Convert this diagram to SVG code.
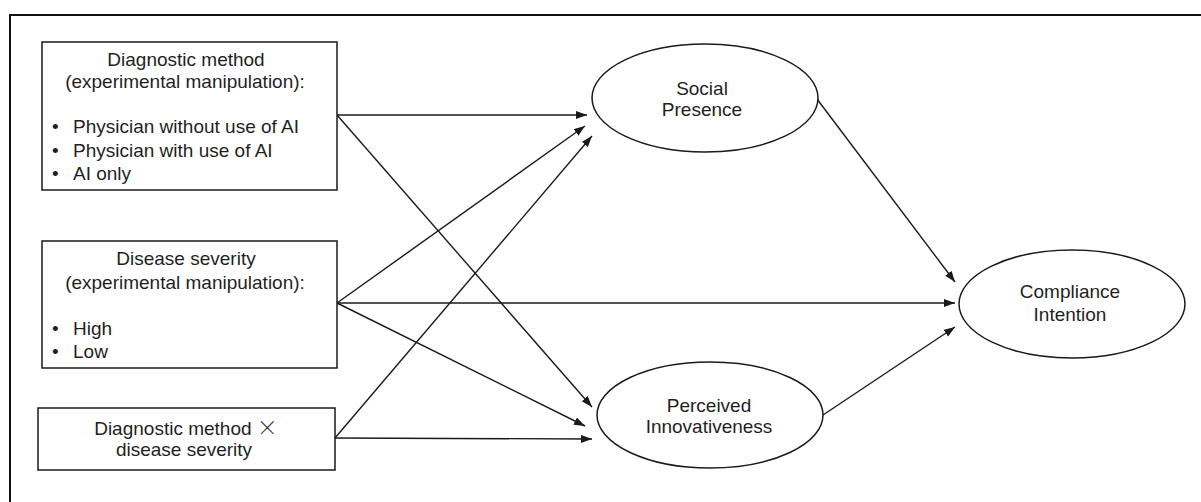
<svg xmlns="http://www.w3.org/2000/svg" width="1201" height="502" viewBox="0 0 1201 502">
  <style>
    .frame { fill: none; stroke: #111111; stroke-width: 2; }
    .box { fill: #ffffff; stroke: #1a1a1a; stroke-width: 1.5; }
    .oval { fill: #ffffff; stroke: #1a1a1a; stroke-width: 1.5; }
    .lbl { font-family: "Liberation Sans", Arial, sans-serif; font-size: 19px; fill: #1f1f1f; }
    .c { text-anchor: middle; }
    .times { font-family: "Noto Sans CJK SC", "Liberation Sans", sans-serif; font-size: 21px; font-weight: 300; }
    .edge { fill: none; stroke: #1a1a1a; stroke-width: 1.4; marker-end: url(#arrow); }
  </style>
  <defs>
    <marker id="arrow" markerUnits="userSpaceOnUse" markerWidth="12" markerHeight="9" refX="11" refY="4" orient="auto">
      <path d="M0,0 L11,4 L0,8 z" fill="#1a1a1a"/>
    </marker>
  </defs>

  <rect width="1201" height="502" fill="#ffffff"/>
  <!-- outer frame, open at right and bottom -->
  <rect class="frame" x="10" y="15" width="1200" height="500"/>

  <g id="connectors">
    <line class="edge" x1="337" y1="115" x2="587" y2="115"/>
    <line class="edge" x1="337" y1="115" x2="592" y2="407"/>
    <line class="edge" x1="337" y1="303" x2="585" y2="126"/>
    <line class="edge" x1="337" y1="303" x2="955" y2="303"/>
    <line class="edge" x1="337" y1="303" x2="585" y2="426"/>
    <line class="edge" x1="335" y1="438" x2="592" y2="136"/>
    <line class="edge" x1="335" y1="438" x2="592" y2="439"/>
    <line class="edge" x1="817" y1="99" x2="955" y2="282"/>
    <line class="edge" x1="823" y1="415" x2="955" y2="327"/>
  </g>

  <g id="diagnostic-method">
    <rect class="box" x="42" y="42" width="295" height="148"/>
    <text class="lbl c" x="186" y="66">Diagnostic method</text>
    <text class="lbl c" x="185" y="88">(experimental manipulation):</text>
    <text class="lbl" x="52" y="133">•</text>
    <text class="lbl" x="73" y="133">Physician without use of AI</text>
    <text class="lbl" x="52" y="157">•</text>
    <text class="lbl" x="73" y="157">Physician with use of AI</text>
    <text class="lbl" x="52" y="180">•</text>
    <text class="lbl" x="73" y="180">AI only</text>
  </g>

  <g id="disease-severity">
    <rect class="box" x="42" y="241" width="295" height="127"/>
    <text class="lbl c" x="186" y="265">Disease severity</text>
    <text class="lbl c" x="185" y="289">(experimental manipulation):</text>
    <text class="lbl" x="52" y="335">•</text>
    <text class="lbl" x="73" y="335">High</text>
    <text class="lbl" x="52" y="358">•</text>
    <text class="lbl" x="73" y="358">Low</text>
  </g>

  <g id="interaction">
    <rect class="box" x="38" y="408" width="297" height="62"/>
    <text class="lbl c" x="186" y="435">Diagnostic method <tspan class="times">×</tspan></text>
    <text class="lbl c" x="184" y="456">disease severity</text>
  </g>

  <g id="social-presence">
    <ellipse class="oval" cx="705" cy="98" rx="113" ry="54"/>
    <text class="lbl c" x="702" y="95">Social</text>
    <text class="lbl c" x="702" y="116">Presence</text>
  </g>

  <g id="perceived-innovativeness">
    <ellipse class="oval" cx="710" cy="415" rx="113" ry="53"/>
    <text class="lbl c" x="709" y="412">Perceived</text>
    <text class="lbl c" x="709" y="433">Innovativeness</text>
  </g>

  <g id="compliance-intention">
    <ellipse class="oval" cx="1072" cy="304" rx="113" ry="54"/>
    <text class="lbl c" x="1070" y="298">Compliance</text>
    <text class="lbl c" x="1070" y="321">Intention</text>
  </g>
</svg>
